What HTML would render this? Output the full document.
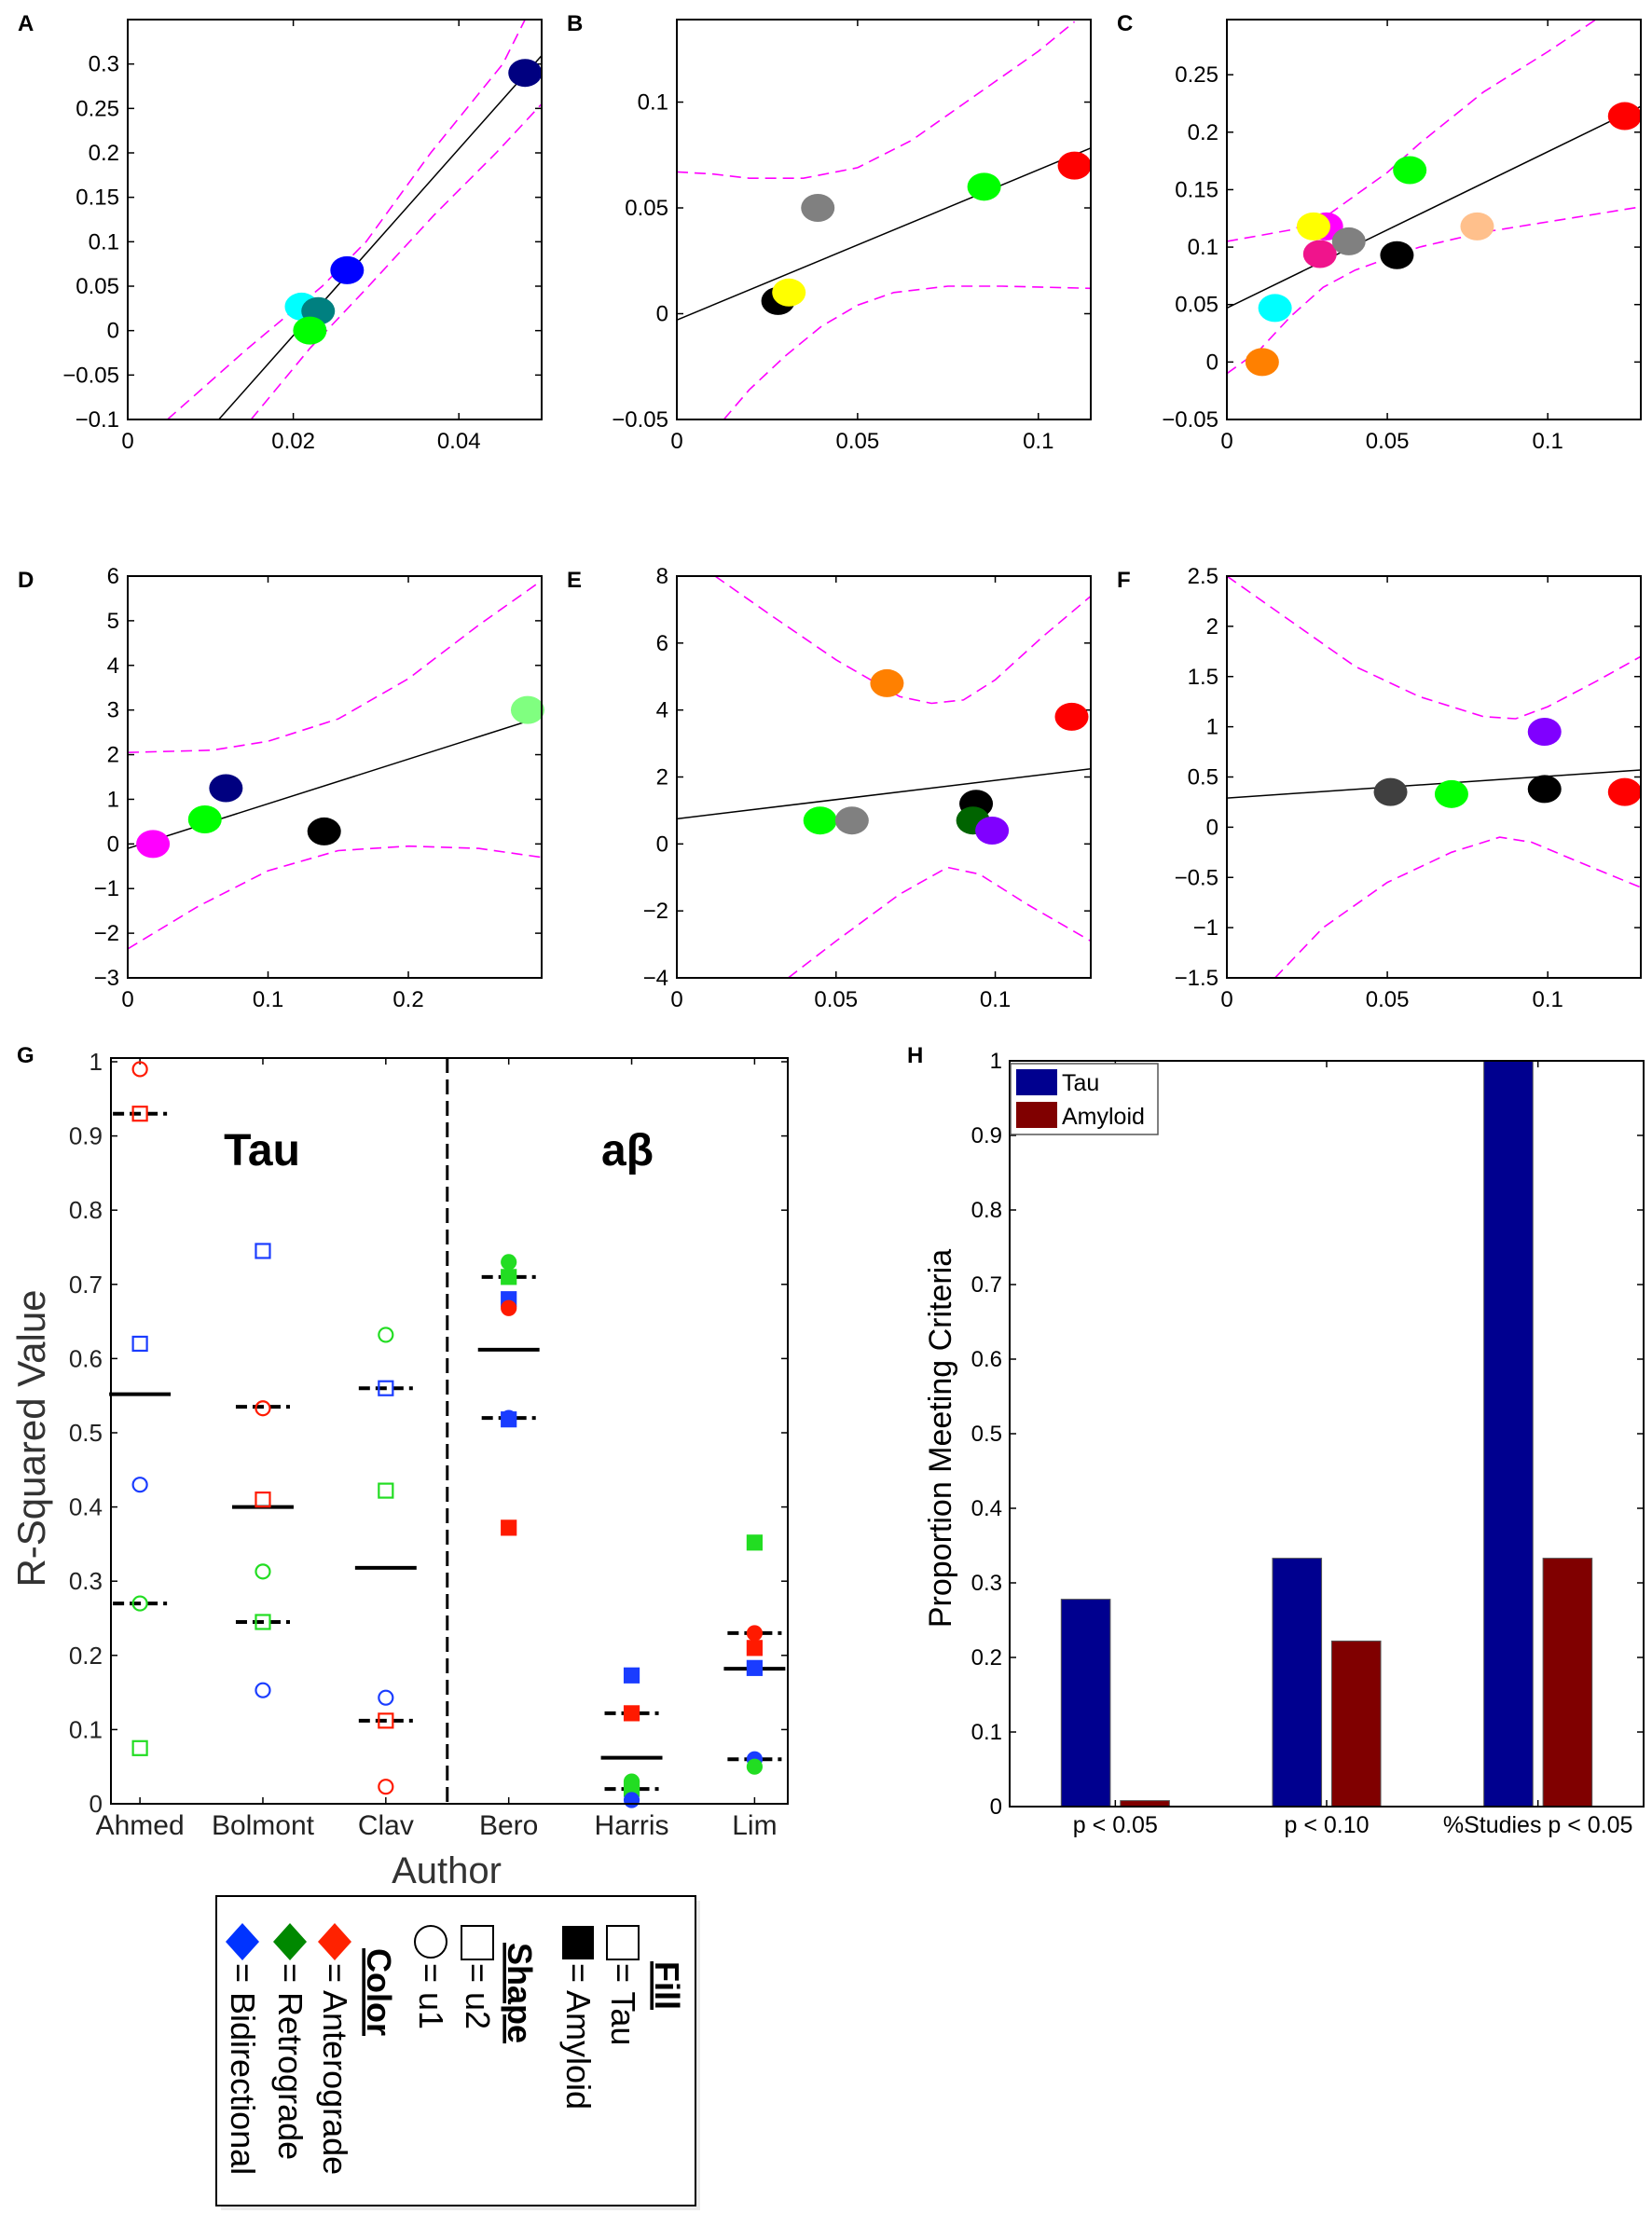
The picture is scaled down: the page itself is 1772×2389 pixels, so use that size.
<!DOCTYPE html>
<html><head><meta charset="utf-8">
<style>
html,body{margin:0;padding:0;background:#fff;}
svg{display:block;font-family:"Liberation Sans",sans-serif;}
</style></head>
<body>
<svg id="fig" xmlns="http://www.w3.org/2000/svg" width="1772" height="2389" viewBox="0 0 1772 2389">
<rect x="0" y="0" width="1772" height="2389" fill="#fff"/>
<g id="panels"></g>
<!-- legend for G -->
<g>
  <rect x="237" y="2039" width="514" height="332" fill="#ddd" opacity="0.6"/>
  <rect x="232" y="2034" width="514" height="332" fill="#fff" stroke="#000" stroke-width="2"/>
  <g>
    <polygon points="260,2063 278,2083 260,2103 242,2083" fill="#0033ff"/>
    <text transform="translate(248,2106) rotate(90)" font-size="36">= Bidirectional</text>
  </g>
  <g>
    <polygon points="311,2063 329,2083 311,2103 293,2083" fill="#008800"/>
    <text transform="translate(299,2106) rotate(90)" font-size="36">= Retrograde</text>
  </g>
  <g>
    <polygon points="359,2063 377,2083 359,2103 341,2083" fill="#ff2200"/>
    <text transform="translate(347,2106) rotate(90)" font-size="36">= Anterograde</text>
  </g>
  <text transform="translate(394,2090) rotate(90)" font-size="36" font-weight="bold" text-decoration="underline">Color</text>
  <g>
    <circle cx="462" cy="2083" r="17" fill="none" stroke="#000" stroke-width="2"/>
    <text transform="translate(450,2106) rotate(90)" font-size="36">= u1</text>
  </g>
  <g>
    <rect x="495" y="2066" width="34" height="36" fill="none" stroke="#000" stroke-width="2"/>
    <text transform="translate(500,2106) rotate(90)" font-size="36">= u2</text>
  </g>
  <text transform="translate(545,2084) rotate(90)" font-size="36" font-weight="bold" text-decoration="underline">Shape</text>
  <g>
    <rect x="603" y="2066" width="34" height="36" fill="#000"/>
    <text transform="translate(608,2106) rotate(90)" font-size="36">= Amyloid</text>
  </g>
  <g>
    <rect x="651" y="2066" width="34" height="36" fill="none" stroke="#000" stroke-width="2"/>
    <text transform="translate(656,2106) rotate(90)" font-size="36">= Tau</text>
  </g>
  <text transform="translate(703,2104) rotate(90)" font-size="36" font-weight="bold" text-decoration="underline">Fill</text>
</g>
</svg>
<script>
// ---------- Panel A ----------
const A_x = [0.048, 0.0265, 0.021, 0.023, 0.022];
const A_y = [0.29, 0.068, 0.027, 0.022, 0.0];
const A_colors = ['#000080', '#0000ff', '#00ffff', '#008080', '#00ff00'];
const A_fit = [-0.2155, 10.5];
const A_upX = [0.0048, 0.0145, 0.0235, 0.0288, 0.0366, 0.0453, 0.048];
const A_upY = [-0.1, -0.02, 0.05, 0.1, 0.2, 0.3, 0.35];
const A_loX = [0.0149, 0.022, 0.0291, 0.037, 0.0445, 0.0505];
const A_loY = [-0.1, -0.02, 0.05, 0.13, 0.2, 0.26];
const A_xticks = [0, 0.02, 0.04];
const A_yticks = [-0.1, -0.05, 0, 0.05, 0.1, 0.15, 0.2, 0.25, 0.3];
// ---------- Panel B ----------
const B_x = [0.028, 0.031, 0.039, 0.085, 0.11];
const B_y = [0.006, 0.01, 0.05, 0.06, 0.07];
const B_colors = ['#000000', '#ffff00', '#808080', '#00ff00', '#ff0000'];
const B_fit = [-0.003, 0.71];
const B_upX = [0, 0.01, 0.02, 0.035, 0.05, 0.065, 0.08, 0.1, 0.11];
const B_upY = [0.067, 0.066, 0.064, 0.064, 0.069, 0.082, 0.1, 0.124, 0.138];
const B_loX = [0.013, 0.02, 0.03, 0.04, 0.05, 0.06, 0.075, 0.09, 0.1145];
const B_loY = [-0.05, -0.036, -0.02, -0.006, 0.004, 0.01, 0.013, 0.013, 0.012];
const B_xticks = [0, 0.05, 0.1];
const B_yticks = [-0.05, 0, 0.05, 0.1];
// ---------- Panel C ----------
const C_x = [0.015, 0.011, 0.031, 0.027, 0.029, 0.038, 0.053, 0.057, 0.078, 0.124];
const C_y = [0.047, 0.0, 0.118, 0.118, 0.094, 0.105, 0.093, 0.167, 0.118, 0.214];
const C_colors = ['#00ffff', '#ff8000', '#ff00ff', '#ffff00', '#f0148c', '#808080', '#000000', '#00ff00', '#ffc08c', '#ff0000'];
const C_fit = [0.047, 1.36];
const C_upX = [0, 0.01, 0.02, 0.03, 0.04, 0.05, 0.06, 0.08, 0.1, 0.115];
const C_upY = [0.105, 0.11, 0.115, 0.125, 0.145, 0.165, 0.19, 0.235, 0.27, 0.298];
const C_loX = [0, 0.01, 0.02, 0.03, 0.04, 0.05, 0.06, 0.08, 0.1, 0.129];
const C_loY = [-0.01, 0.01, 0.04, 0.065, 0.08, 0.09, 0.1, 0.113, 0.122, 0.135];
const C_xticks = [0, 0.05, 0.1];
const C_yticks = [-0.05, 0, 0.05, 0.1, 0.15, 0.2, 0.25];
// ---------- Panel D ----------
const D_x = [0.018, 0.055, 0.07, 0.14, 0.285];
const D_y = [0.0, 0.55, 1.25, 0.28, 3.0];
const D_colors = ['#ff00ff', '#00ff00', '#000080', '#000000', '#80ff80'];
const D_fit = [-0.1, 10.0];
const D_upX = [0, 0.06, 0.1, 0.15, 0.2, 0.25, 0.295];
const D_upY = [2.05, 2.1, 2.3, 2.8, 3.7, 4.9, 5.9];
const D_loX = [0, 0.05, 0.1, 0.15, 0.2, 0.25, 0.295];
const D_loY = [-2.35, -1.4, -0.6, -0.15, -0.05, -0.1, -0.3];
const D_xticks = [0, 0.1, 0.2];
const D_yticks = [-3, -2, -1, 0, 1, 2, 3, 4, 5, 6];
// ---------- Panel E ----------
const E_x = [0.045, 0.055, 0.066, 0.094, 0.093, 0.099, 0.124];
const E_y = [0.7, 0.7, 4.8, 1.2, 0.7, 0.4, 3.8];
const E_colors = ['#00ff00', '#808080', '#ff8000', '#000000', '#006400', '#8000ff', '#ff0000'];
const E_fit = [0.75, 11.5];
const E_upX = [0.012, 0.03, 0.05, 0.07, 0.08, 0.09, 0.1, 0.115, 0.13];
const E_upY = [8, 6.8, 5.5, 4.4, 4.2, 4.3, 4.9, 6.2, 7.4];
const E_loX = [0.035, 0.05, 0.07, 0.085, 0.095, 0.11, 0.13];
const E_loY = [-4, -2.9, -1.5, -0.7, -0.9, -1.8, -2.9];
const E_xticks = [0, 0.05, 0.1];
const E_yticks = [-4, -2, 0, 2, 4, 6, 8];
// ---------- Panel F ----------
const F_x = [0.051, 0.07, 0.099, 0.099, 0.124];
const F_y = [0.35, 0.33, 0.95, 0.38, 0.35];
const F_colors = ['#404040', '#00ff00', '#8000ff', '#000000', '#ff0000'];
const F_fit = [0.29, 2.17];
const F_upX = [0, 0.02, 0.04, 0.06, 0.08, 0.09, 0.1, 0.115, 0.129];
const F_upY = [2.5, 2.05, 1.6, 1.3, 1.1, 1.08, 1.2, 1.45, 1.7];
const F_loX = [0.015, 0.03, 0.05, 0.07, 0.085, 0.095, 0.11, 0.129];
const F_loY = [-1.5, -1.0, -0.55, -0.25, -0.1, -0.15, -0.35, -0.6];
const F_xticks = [0, 0.05, 0.1];
const F_yticks = [-1.5, -1, -0.5, 0, 0.5, 1, 1.5, 2, 2.5];
// ---------- Panel G ----------
const G_authors = ['Ahmed', 'Bolmont', 'Clav', 'Bero', 'Harris', 'Lim'];
const G_ptAuthor = [0,0,0,0,0,0, 1,1,1,1,1,1, 2,2,2,2,2,2, 3,3,3,3,3,3,3, 4,4,4,4,4, 5,5,5,5,5,5];
const G_ptValue = [0.99,0.93,0.62,0.43,0.27,0.075, 0.745,0.533,0.41,0.313,0.245,0.153, 0.632,0.56,0.422,0.143,0.112,0.023, 0.73,0.71,0.68,0.668,0.52,0.518,0.372, 0.173,0.122,0.03,0.02,0.005, 0.352,0.23,0.21,0.183,0.06,0.05];
const G_ptShape = ['c','s','s','c','c','s', 's','c','s','c','s','c', 'c','s','s','c','s','c', 'c','s','s','c','c','s','s', 's','s','c','s','c', 's','c','s','s','c','c'];
const G_ptColor = ['r','r','b','b','g','g', 'b','r','r','g','g','b', 'g','b','g','b','r','r', 'g','g','b','r','b','b','r', 'b','r','g','g','b', 'g','r','r','b','b','g'];
const G_ptFilled = [0,0,0,0,0,0, 0,0,0,0,0,0, 0,0,0,0,0,0, 1,1,1,1,1,1,1, 1,1,1,1,1, 1,1,1,1,1,1];
const G_means = [0.552, 0.40, 0.318, 0.612, 0.062, 0.182];
const G_dashHi = [0.93, 0.535, 0.56, 0.71, 0.122, 0.23];
const G_dashLo = [0.27, 0.245, 0.112, 0.52, 0.02, 0.06];
const G_yticks = [0, 0.1, 0.2, 0.3, 0.4, 0.5, 0.6, 0.7, 0.8, 0.9, 1];
// ---------- Panel H ----------
const H_categories = ['p < 0.05', 'p < 0.10', '%Studies p < 0.05'];
const H_tau = [0.278, 0.333, 1.0];
const H_amyloid = [0.008, 0.222, 0.333];
const H_yticks = [0, 0.1, 0.2, 0.3, 0.4, 0.5, 0.6, 0.7, 0.8, 0.9, 1];

const NS = 'http://www.w3.org/2000/svg';
const root = document.getElementById('panels');
function mk(tag, attrs, parent) {
  const e = document.createElementNS(NS, tag);
  for (const k in attrs) e.setAttribute(k, attrs[k]);
  (parent || root).appendChild(e);
  return e;
}
function fmt(v) {
  let s = String(Math.round(v * 1000) / 1000);
  if (s.startsWith('-')) s = '\u2212' + s.slice(1);
  return s;
}
function scatterPanel(id, letter, box, xr, yr, xs, ys, cols, fit, upX, upY, loX, loY, xt, yt) {
  const [L, T, R, B] = box;
  const sx = v => L + (v - xr[0]) / (xr[1] - xr[0]) * (R - L);
  const sy = v => B - (v - yr[0]) / (yr[1] - yr[0]) * (B - T);
  const g = mk('g', {});
  
  
  const cid = 'clip-' + id;
  const cp = mk('clipPath', { id: cid }, g);
  mk('rect', { x: L, y: T, width: R - L, height: B - T }, cp);
  const lbl = mk('text', { x: L - 118, y: T + 12, 'font-size': 24, 'font-weight': 'bold' }, g);
  lbl.textContent = letter;
  
  
  xt.forEach(v => {
    const x = sx(v);
    mk('line', { x1: x, y1: B, x2: x, y2: B - 7, stroke: '#000', 'stroke-width': 1.5 }, g);
    mk('line', { x1: x, y1: T, x2: x, y2: T + 7, stroke: '#000', 'stroke-width': 1.5 }, g);
    const t = mk('text', { x: x, y: B + 31, 'font-size': 24, 'text-anchor': 'middle' }, g);
    t.textContent = fmt(v);
    
    
  });
  yt.forEach(v => {
    const y = sy(v);
    mk('line', { x1: L, y1: y, x2: L + 7, y2: y, stroke: '#000', 'stroke-width': 1.5 }, g);
    mk('line', { x1: R, y1: y, x2: R - 7, y2: y, stroke: '#000', 'stroke-width': 1.5 }, g);
    const t = mk('text', { x: L - 9, y: y + 8, 'font-size': 24, 'text-anchor': 'end' }, g);
    t.textContent = fmt(v);
    
    
  });
  const inner = mk('g', { 'clip-path': 'url(#' + cid + ')' }, g);
  [[upX, upY, 'ci-upper'], [loX, loY, 'ci-lower']].forEach(([ax, ay, nm]) => {
    const d = ax.map((v, i) => (i ? 'L' : 'M') + sx(v).toFixed(1) + ',' + sy(ay[i]).toFixed(1)).join(' ');
    const p = mk('path', { d: d, fill: 'none', stroke: '#ff00ff', 'stroke-width': 1.6, 'stroke-dasharray': '12,7' }, inner);
    
    
  });
  const fl = mk('line', { x1: sx(xr[0]), y1: sy(fit[0] + fit[1] * xr[0]), x2: sx(xr[1]), y2: sy(fit[0] + fit[1] * xr[1]), stroke: '#000', 'stroke-width': 1.5 }, inner);
  
  
  xs.forEach((v, i) => {
    const e = mk('ellipse', { cx: sx(v), cy: sy(ys[i]), rx: 18, ry: 15, fill: cols[i] }, g);
    
    
  });
  const fr = mk('rect', { x: L, y: T, width: R - L, height: B - T, fill: 'none', stroke: '#000', 'stroke-width': 2 }, g);
  
  
}
scatterPanel('a', 'A', [137, 21, 581, 450], [0, 0.05], [-0.1, 0.35], A_x, A_y, A_colors, A_fit, A_upX, A_upY, A_loX, A_loY, A_xticks, A_yticks);
scatterPanel('b', 'B', [726, 21, 1170, 450], [0, 0.1145], [-0.05, 0.139], B_x, B_y, B_colors, B_fit, B_upX, B_upY, B_loX, B_loY, B_xticks, B_yticks);
scatterPanel('c', 'C', [1316, 21, 1760, 450], [0, 0.129], [-0.05, 0.298], C_x, C_y, C_colors, C_fit, C_upX, C_upY, C_loX, C_loY, C_xticks, C_yticks);
scatterPanel('d', 'D', [137, 618, 581, 1049], [0, 0.295], [-3, 6], D_x, D_y, D_colors, D_fit, D_upX, D_upY, D_loX, D_loY, D_xticks, D_yticks);
scatterPanel('e', 'E', [726, 618, 1170, 1049], [0, 0.13], [-4, 8], E_x, E_y, E_colors, E_fit, E_upX, E_upY, E_loX, E_loY, E_xticks, E_yticks);
scatterPanel('f', 'F', [1316, 618, 1760, 1049], [0, 0.129], [-1.5, 2.5], F_x, F_y, F_colors, F_fit, F_upX, F_upY, F_loX, F_loY, F_xticks, F_yticks);

// ----- Panel G -----
(function () {
  const L = 119, T = 1135, R = 845, B = 1935;
  const xr = [0.764, 6.27], yr = [0, 1.005];
  const sx = v => L + (v - xr[0]) / (xr[1] - xr[0]) * (R - L);
  const sy = v => B - (v - yr[0]) / (yr[1] - yr[0]) * (B - T);
  const g = mk('g', {});
  
  
  const lb = mk('text', { x: 18, y: 1140, 'font-size': 24, 'font-weight': 'bold' }, g);
  lb.textContent = 'G';
  G_yticks.forEach(v => {
    const y = sy(v);
    mk('line', { x1: L, y1: y, x2: L + 7, y2: y, stroke: '#000', 'stroke-width': 1.5 }, g);
    mk('line', { x1: R, y1: y, x2: R - 7, y2: y, stroke: '#000', 'stroke-width': 1.5 }, g);
    const t = mk('text', { x: L - 9, y: y + 9, 'font-size': 26, 'text-anchor': 'end', fill: '#222' }, g);
    t.textContent = fmt(v);
    
    
  });
  G_authors.forEach((a, i) => {
    const x = sx(i + 1);
    mk('line', { x1: x, y1: B, x2: x, y2: B - 7, stroke: '#000', 'stroke-width': 1.5 }, g);
    mk('line', { x1: x, y1: T, x2: x, y2: T + 7, stroke: '#000', 'stroke-width': 1.5 }, g);
    const t = mk('text', { x: x, y: B + 33, 'font-size': 30, 'text-anchor': 'middle', fill: '#222' }, g);
    t.textContent = a;
    
    
  });
  const dv = mk('line', { x1: sx(3.5), y1: T, x2: sx(3.5), y2: B, stroke: '#000', 'stroke-width': 3, 'stroke-dasharray': '16,7' }, g);
  
  
  const tt = mk('text', { x: 281, y: 1250, 'font-size': 48, 'font-weight': 'bold', 'text-anchor': 'middle' }, g);
  tt.textContent = 'Tau';
  
  
  const ta = mk('text', { x: 673, y: 1250, 'font-size': 48, 'font-weight': 'bold', 'text-anchor': 'middle' }, g);
  ta.textContent = 'a\u03b2';
  
  
  const hw = 0.25;
  G_means.forEach((m, i) => {
    const x1 = sx(i + 1 - hw), x2 = Math.min(R, sx(i + 1 + hw));
    const l = mk('line', { x1: x1, y1: sy(m), x2: x2, y2: sy(m), stroke: '#000', 'stroke-width': 4 }, g);
    
    
    [G_dashHi[i], G_dashLo[i]].forEach(v => {
      const d = mk('line', { x1: sx(i + 1 - 0.22), y1: sy(v), x2: Math.min(R, sx(i + 1 + 0.22)), y2: sy(v), stroke: '#000', 'stroke-width': 4, 'stroke-dasharray': '12,6' }, g);
      
      
    });
  });
  const colMap = { r: '#ff1a00', g: '#22dd22', b: '#1a3cff' };
  G_ptValue.forEach((v, i) => {
    const x = sx(G_ptAuthor[i] + 1), y = sy(v), c = colMap[G_ptColor[i]];
    const filled = G_ptFilled[i];
    let e;
    if (G_ptShape[i] === 'c') {
      e = mk('circle', { cx: x, cy: y, r: 7.5, fill: filled ? c : 'none', stroke: c, 'stroke-width': 2.2 }, g);
    } else {
      e = mk('rect', { x: x - 7.5, y: y - 7.5, width: 15, height: 15, fill: filled ? c : 'none', stroke: c, 'stroke-width': 2.2 }, g);
    }
    
    
  });
  mk('rect', { x: L, y: T, width: R - L, height: B - T, fill: 'none', stroke: '#000', 'stroke-width': 2 }, g);
  const yl = mk('text', { transform: 'translate(48,1543) rotate(-90)', 'font-size': 42, 'text-anchor': 'middle', fill: '#333' }, g);
  yl.textContent = 'R-Squared Value';
  
  
  const xl = mk('text', { x: 479, y: 2020, 'font-size': 40, 'text-anchor': 'middle', fill: '#333' }, g);
  xl.textContent = 'Author';
  
  
})();

// ----- Panel H -----
(function () {
  const L = 1083, T = 1138, R = 1763, B = 1938;
  const xr = [0.5, 3.5], yr = [0, 1];
  const sx = v => L + (v - xr[0]) / (xr[1] - xr[0]) * (R - L);
  const sy = v => B - (v - yr[0]) / (yr[1] - yr[0]) * (B - T);
  const g = mk('g', {});
  
  
  const lb = mk('text', { x: 973, y: 1140, 'font-size': 24, 'font-weight': 'bold' }, g);
  lb.textContent = 'H';
  H_yticks.forEach(v => {
    const y = sy(v);
    mk('line', { x1: L, y1: y, x2: L + 7, y2: y, stroke: '#000', 'stroke-width': 1.5 }, g);
    mk('line', { x1: R, y1: y, x2: R - 7, y2: y, stroke: '#000', 'stroke-width': 1.5 }, g);
    const t = mk('text', { x: L - 8, y: y + 8, 'font-size': 24, 'text-anchor': 'end' }, g);
    t.textContent = fmt(v);
    
    
  });
  const bw = 0.232, off = 0.14;
  H_categories.forEach((c, i) => {
    const x = sx(i + 1);
    mk('line', { x1: x, y1: B, x2: x, y2: B - 7, stroke: '#000', 'stroke-width': 1.5 }, g);
    mk('line', { x1: x, y1: T, x2: x, y2: T + 7, stroke: '#000', 'stroke-width': 1.5 }, g);
    const t = mk('text', { x: x, y: B + 28, 'font-size': 25, 'text-anchor': 'middle' }, g);
    t.textContent = c;
    
    
    const b1 = mk('rect', { x: sx(i + 1 - off - bw / 2), y: sy(H_tau[i]), width: sx(bw) - sx(0), height: B - sy(H_tau[i]), fill: '#00008f', stroke: '#555', 'stroke-width': 1 }, g);
    
    
    const b2 = mk('rect', { x: sx(i + 1 + off - bw / 2), y: sy(H_amyloid[i]), width: sx(bw) - sx(0), height: B - sy(H_amyloid[i]), fill: '#800000', stroke: '#555', 'stroke-width': 1 }, g);
    
    
  });
  mk('rect', { x: L, y: T, width: R - L, height: B - T, fill: 'none', stroke: '#000', 'stroke-width': 2 }, g);
  const leg = mk('g', {}, g);
  
  
  mk('rect', { x: 1084, y: 1141, width: 158, height: 76, fill: '#fff', stroke: '#555', 'stroke-width': 1.5 }, leg);
  mk('rect', { x: 1090, y: 1147, width: 44, height: 28, fill: '#00008f' }, leg);
  mk('rect', { x: 1090, y: 1182, width: 44, height: 28, fill: '#800000' }, leg);
  const l1 = mk('text', { x: 1139, y: 1170, 'font-size': 25 }, leg);
  l1.textContent = 'Tau';
  
  
  const l2 = mk('text', { x: 1139, y: 1206, 'font-size': 25 }, leg);
  l2.textContent = 'Amyloid';
  
  
  const yl = mk('text', { transform: 'translate(1020,1543) rotate(-90)', 'font-size': 34, 'text-anchor': 'middle' }, g);
  yl.textContent = 'Proportion Meeting Criteria';
  
  
})();
</script>
</body></html>
